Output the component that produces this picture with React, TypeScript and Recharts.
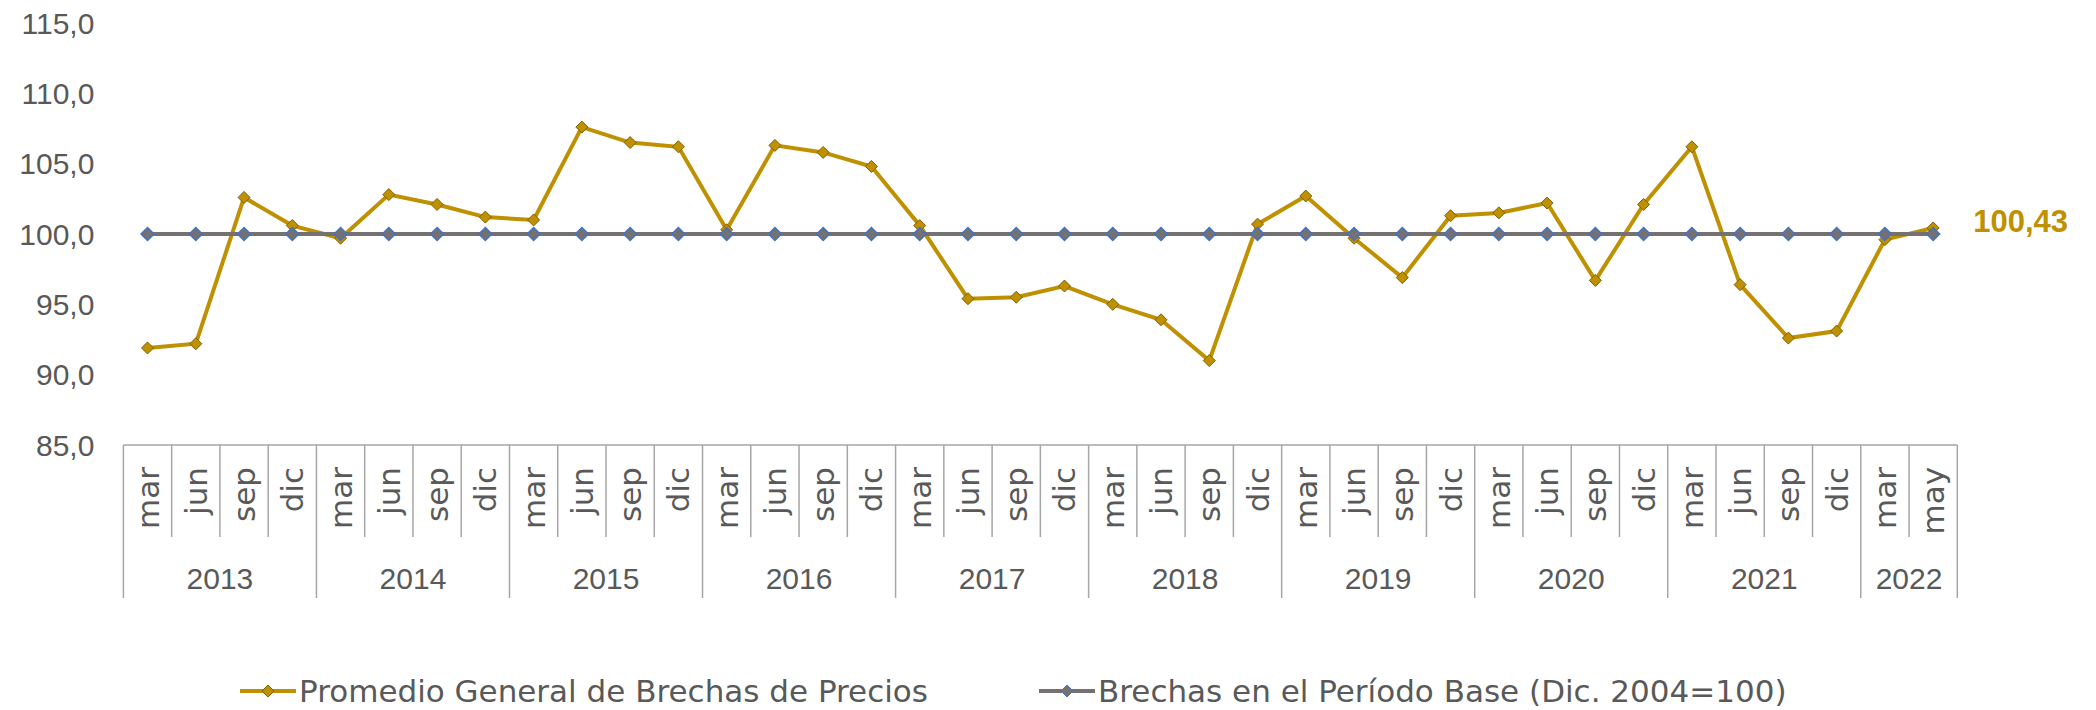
import { LineChart, Line, XAxis, YAxis, Legend, LabelList } from "recharts";

const monthLabels = [
  "mar", "jun", "sep", "dic",
  "mar", "jun", "sep", "dic",
  "mar", "jun", "sep", "dic",
  "mar", "jun", "sep", "dic",
  "mar", "jun", "sep", "dic",
  "mar", "jun", "sep", "dic",
  "mar", "jun", "sep", "dic",
  "mar", "jun", "sep", "dic",
  "mar", "jun", "sep", "dic",
  "mar", "may",
];

const yearLabels = [
  "2013", "2013", "2013", "2013",
  "2014", "2014", "2014", "2014",
  "2015", "2015", "2015", "2015",
  "2016", "2016", "2016", "2016",
  "2017", "2017", "2017", "2017",
  "2018", "2018", "2018", "2018",
  "2019", "2019", "2019", "2019",
  "2020", "2020", "2020", "2020",
  "2021", "2021", "2021", "2021",
  "2022", "2022",
];

// Promedio General de Brechas de Precios
const promedio = [
  91.9, 92.2, 102.6, 100.6,
  99.7, 102.8, 102.1, 101.2,
  101.0, 107.6, 106.5, 106.2,
  100.3, 106.3, 105.8, 104.8,
  100.6, 95.4, 95.5, 96.3,
  95.0, 93.9, 91.0, 100.7,
  102.7, 99.7, 96.9, 101.3,
  101.5, 102.2, 96.7, 102.1,
  106.2, 96.4, 92.6, 93.1,
  99.6, 100.43,
];

// Brechas en el Período Base (Dic. 2004=100)
const base = monthLabels.map(() => 100);

const yTicks = [85, 90, 95, 100, 105, 110, 115];

const data = monthLabels.map((m, i) => ({
  key: `${m}-${yearLabels[i]}`,
  promedio: promedio[i],
  base: base[i],
}));

const GOLD = "#BF9000";
const GOLD_DARK = "#7F6000";
const GREY_LINE = "#767171";
const BLUE = "#4472C4";
const TEXT = "#595959";
const AXIS = "#A6A6A6";
const SANS = "'DejaVu Sans', sans-serif";
const NUM = "'Liberation Sans', Arial, sans-serif";

const W = 2096;
const H = 710;
const PLOT_LEFT = 123.4;
const PLOT_RIGHT = 1957.3;
const PAD = 24.13;
const STEP = (PLOT_RIGHT - PLOT_LEFT - 2 * PAD) / (monthLabels.length - 1);

const fmt = (v: number, d: number) => v.toFixed(d).replace(".", ",");

function diamond(fill: string, stroke: string, sw: number, r: number) {
  return (props: any) => {
    const { cx, cy, index } = props;
    if (cx == null || cy == null) return <g key={index} />;
    return (
      <polygon
        key={index}
        points={`${cx},${cy - r} ${cx + r},${cy} ${cx},${cy + r} ${cx - r},${cy}`}
        fill={fill}
        stroke={stroke}
        strokeWidth={sw}
      />
    );
  };
}

function CategoryTick(props: any) {
  const { x, y, index } = props;
  const half = STEP / 2;
  const first = index === 0 || yearLabels[index] !== yearLabels[index - 1];
  const last = index === monthLabels.length - 1;
  let yearEl = null;
  if (first) {
    const count = yearLabels.filter((v) => v === yearLabels[index]).length;
    yearEl = (
      <text
        x={x - half + (count * STEP) / 2}
        y={y + 133}
        textAnchor="middle"
        dominantBaseline="central"
        fill={TEXT}
        fontSize={30}
        fontFamily={NUM}
      >
        {yearLabels[index]}
      </text>
    );
  }
  return (
    <g>
      <line x1={x - half} x2={x - half} y1={y} y2={y + (first ? 153 : 92)} stroke={AXIS} strokeWidth={1.5} />
      {last && <line x1={x + half} x2={x + half} y1={y} y2={y + 153} stroke={AXIS} strokeWidth={1.5} />}
      <text
        x={x + 11}
        y={y + 22}
        transform={`rotate(-90, ${x + 11}, ${y + 22})`}
        textAnchor="end"
        fill={TEXT}
        fontSize={31}
        fontFamily={SANS}
      >
        {monthLabels[index]}
      </text>
      {yearEl}
    </g>
  );
}

function LastLabel(props: any) {
  const { x, y, value, index } = props;
  if (index !== promedio.length - 1) return null;
  return (
    <text
      x={x + 40}
      y={y - 6}
      dominantBaseline="central"
      fill={GOLD}
      fontSize={31}
      fontWeight="bold"
      fontFamily={NUM}
    >
      {fmt(value, 2)}
    </text>
  );
}

function LegendIcon({ color, fill, stroke }: { color: string; fill: string; stroke: string }) {
  return (
    <svg width={56} height={20} style={{ position: "absolute", left: 0, top: 10 }}>
      <line x1={0} x2={56} y1={10} y2={10} stroke={color} strokeWidth={4} />
      <polygon points="28,4 34,10 28,16 22,10" fill={fill} stroke={stroke} strokeWidth={1} />
    </svg>
  );
}

function ChartLegend() {
  const items = [
    { left: 240, label: "Promedio General de Brechas de Precios", color: GOLD, fill: GOLD, stroke: GOLD_DARK },
    { left: 1039, label: "Brechas en el Período Base (Dic. 2004=100)", color: GREY_LINE, fill: GREY_LINE, stroke: BLUE },
  ];
  return (
    <div style={{ position: "relative", width: W, height: 40 }}>
      {items.map((it) => (
        <div key={it.label} style={{ position: "absolute", left: it.left, top: 0, height: 40 }}>
          <LegendIcon color={it.color} fill={it.fill} stroke={it.stroke} />
          <span
            style={{
              position: "absolute",
              left: 59,
              top: 0,
              whiteSpace: "nowrap",
              fontFamily: SANS,
              fontSize: 31,
              lineHeight: "40px",
              color: TEXT,
            }}
          >
            {it.label}
          </span>
        </div>
      ))}
    </div>
  );
}

export default function App() {
  return (
    <div style={{ position: "absolute", left: 0, top: 0, width: W, height: H, background: "#fff" }}>
      <LineChart
        width={W}
        height={H}
        data={data}
        margin={{ top: 23, right: W - PLOT_RIGHT, left: 0, bottom: 65 }}
      >
        <XAxis
          dataKey="key"
          height={160}
          interval={0}
          padding={{ left: PAD, right: PAD }}
          axisLine={{ stroke: AXIS, strokeWidth: 1.5 }}
          tickLine={false}
          tickSize={0}
          tickMargin={0}
          tick={<CategoryTick />}
        />
        <YAxis
          width={PLOT_LEFT}
          domain={[85, 115]}
          ticks={yTicks}
          interval={0}
          axisLine={false}
          tickLine={false}
          tickSize={0}
          tickMargin={29}
          tickFormatter={(v: number) => fmt(v, 1)}
          tick={{ fill: TEXT, fontSize: 30, fontFamily: NUM }}
        />
        <Legend
          verticalAlign="bottom"
          height={40}
          content={() => <ChartLegend />}
          wrapperStyle={{ position: "absolute", left: 0, top: 671, width: W, height: 40 }}
        />
        <Line
          dataKey="promedio"
          stroke={GOLD}
          strokeWidth={4}
          dot={diamond(GOLD, GOLD_DARK, 1, 6)}
          activeDot={false}
          isAnimationActive={false}
        >
          <LabelList dataKey="promedio" content={<LastLabel />} />
        </Line>
        <Line
          dataKey="base"
          stroke={GREY_LINE}
          strokeWidth={4}
          dot={diamond(GREY_LINE, BLUE, 1.5, 6.5)}
          activeDot={false}
          isAnimationActive={false}
        />
      </LineChart>
    </div>
  );
}
